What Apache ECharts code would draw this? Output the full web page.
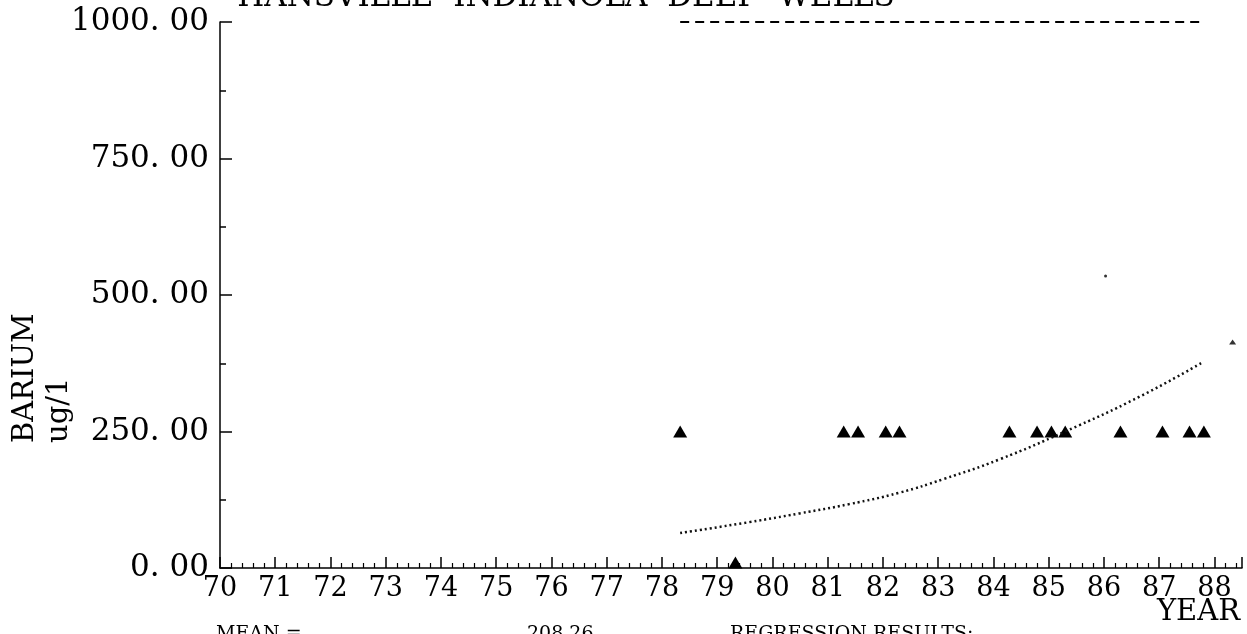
<!DOCTYPE html>
<html>
<head>
<meta charset="utf-8">
<script src="https://cdn.jsdelivr.net/npm/echarts@6/dist/echarts.min.js"></script>
<style>
  html, body { margin: 0; padding: 0; background: #fff; }
  #main { width: 1247px; height: 634px; }
</style>
</head>
<body>
<div id="main"></div>
<script>
// sample dates (decimal years) and barium values, ug/l
const sampleYears = [78.33, 79.33, 81.29, 81.55, 82.05, 82.30, 84.29, 84.79, 85.05, 85.30, 86.30, 87.06, 87.55, 87.81];
const sampleValues = [250, 10, 250, 250, 250, 250, 250, 250, 250, 250, 250, 250, 250, 250];

// regression curve
const regYears = [78.33, 79.58, 80.49, 81.39, 82.30, 83.10, 84.11, 85.30, 86.65, 87.79];
const regValues = [64, 84, 100, 117, 138, 163, 199, 250, 314, 377];

// standard line (1000 ug/l) over the sampled period
const limitYears = [78.33, 87.81];
const limitValues = [1000, 1000];

// stray marks on the plot
const strayYears = [86.03, 88.33];
const strayValues = [535, 414];

const titleText = 'HANSVILLE  INDIANOLA  DEEP  WELLS';
const meanText = '208.26';

const serif = 'DejaVu Serif';
const ink = '#000';

const chart = echarts.init(document.getElementById('main'));

function zip(xs, ys) {
  return xs.map((x, i) => [x, ys[i]]);
}

const option = {
  backgroundColor: '#fff',
  animation: false,
  grid: { left: 220, right: 5, top: 22, bottom: 66 },
  xAxis: {
    type: 'value',
    min: 70,
    max: 88.5,
    interval: 1,
    splitLine: { show: false },
    axisLine: { lineStyle: { color: ink, width: 1.5 } },
    axisTick: { inside: true, length: 11, lineStyle: { color: ink, width: 1.5 } },
    minorTick: { show: true, splitNumber: 5, length: 5, lineStyle: { color: ink, width: 1.2 } },
    axisLabel: {
      color: ink,
      fontFamily: serif,
      fontSize: 27,
      margin: 7,
      formatter: v => Number.isInteger(v) ? String(v) : ''
    }
  },
  yAxis: {
    type: 'value',
    min: 0,
    max: 1000,
    interval: 250,
    splitLine: { show: false },
    axisLine: { show: true, lineStyle: { color: ink, width: 1.5 } },
    axisTick: { show: true, inside: true, length: 12, lineStyle: { color: ink, width: 1.5 } },
    minorTick: { show: true, splitNumber: 2, length: 6, lineStyle: { color: ink, width: 1.5 } },
    axisLabel: {
      color: ink,
      fontFamily: serif,
      fontSize: 31,
      margin: 11,
      formatter: v => v.toFixed(2).replace('.', '. ')
    }
  },
  graphic: [
    {
      type: 'text', x: 566, y: -18,
      style: { text: titleText, fill: ink, font: '31px "DejaVu Serif"', align: 'center', verticalAlign: 'top' }
    },
    {
      type: 'text', x: 25, y: 443, rotation: Math.PI / 2,
      style: { text: 'BARIUM', fill: ink, font: '29px "DejaVu Serif"', align: 'left', verticalAlign: 'middle' }
    },
    {
      type: 'text', x: 59, y: 443, rotation: Math.PI / 2,
      style: { text: 'ug/1', fill: ink, font: '29px "DejaVu Serif"', align: 'left', verticalAlign: 'middle' }
    },
    {
      type: 'text', x: 1240, y: 612,
      style: { text: 'YEAR', fill: ink, font: '29px "DejaVu Serif"', align: 'right', verticalAlign: 'middle' }
    },
    {
      type: 'text', x: 216, y: 634,
      style: { text: 'MEAN =', fill: ink, font: '19px "DejaVu Serif"', align: 'left', verticalAlign: 'middle' }
    },
    {
      type: 'text', x: 527, y: 634,
      style: { text: meanText, fill: ink, font: '19px "DejaVu Serif"', align: 'left', verticalAlign: 'middle' }
    },
    {
      type: 'text', x: 730, y: 634,
      style: { text: 'REGRESSION RESULTS:', fill: ink, font: '19px "DejaVu Serif"', align: 'left', verticalAlign: 'middle' }
    }
  ],
  series: [
    {
      name: 'limit',
      type: 'line',
      data: zip(limitYears, limitValues),
      symbol: 'none',
      lineStyle: { color: ink, width: 2, type: [9, 6] }
    },
    {
      name: 'regression',
      type: 'line',
      smooth: true,
      data: zip(regYears, regValues),
      symbol: 'none',
      lineStyle: { color: '#111', width: 2.5, type: [2, 3] }
    },
    {
      name: 'samples',
      type: 'scatter',
      data: zip(sampleYears, sampleValues),
      symbol: 'triangle',
      symbolSize: [14, 12],
      itemStyle: { color: ink, opacity: 1 }
    },
    {
      name: 'stray',
      type: 'scatter',
      data: zip(strayYears, strayValues),
      symbol: (val, params) => params.dataIndex === 0 ? 'circle' : 'triangle',
      symbolSize: (val, params) => params.dataIndex === 0 ? 3 : [7, 5],
      itemStyle: { color: '#333', opacity: 1 }
    }
  ]
};

chart.setOption(option);
</script>
</body>
</html>
